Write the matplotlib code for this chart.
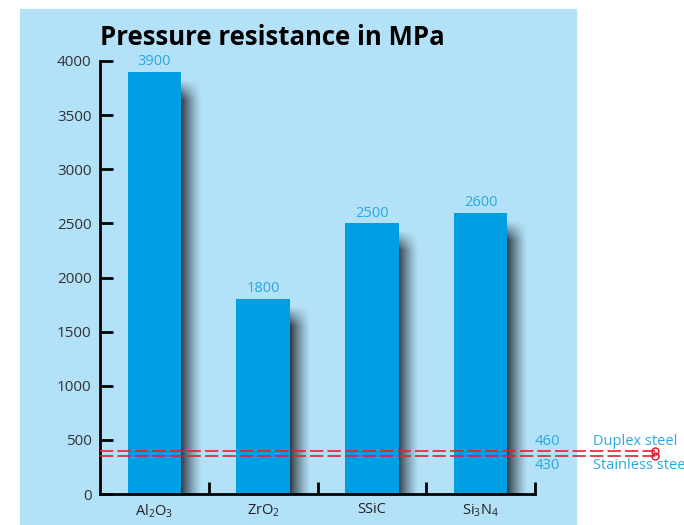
import numpy as np
import matplotlib
matplotlib.use("Agg")
from matplotlib import pyplot as plt
from matplotlib.patches import Rectangle

# data
materials = [r"Al$_2$O$_3$", r"ZrO$_2$", "SSiC", r"Si$_3$N$_4$"]
pressure = [3900, 1800, 2500, 2600]
steel_names = ["Duplex steel", "Stainless steel"]
steel_values = [460, 430]
steel_levels = [400, 355]   # where the dashed lines sit in the picture

BG = "#b3e1f7"
BAR = "#009fe3"
LABEL = "#2aa8e2"
RED = "#e3202c"

plt.rcParams["font.family"] = ["Open Sans", "DejaVu Sans"]
plt.rcParams["mathtext.default"] = "regular"

fig = plt.figure(figsize=(6.84, 5.25), dpi=100)
fig.patches.append(Rectangle((20 / 684, 0), 556 / 684, 1 - 9 / 525,
                             transform=fig.transFigure, color=BG, zorder=-10))

ax = fig.add_axes([100 / 684, 31 / 525, 435 / 684, 433 / 525])
ax.set_facecolor("none")
x = np.arange(len(materials))
w = 0.49

# soft shadow to the right of each bar
sw = 0.19
gx = np.linspace(0, 1, 60)
hx = (1 - gx) ** 1.3
for xi, v in zip(x, pressure):
    top = v - 70
    ys = np.linspace(top, 0, 160)          # image rows, top to bottom
    vy = np.clip((top - ys) / 180, 0, 1)   # fade in below the top
    img = np.zeros((160, 60, 4))
    img[..., 0] = 0.15
    img[..., 1] = 0.19
    img[..., 2] = 0.23
    img[..., 3] = np.outer(vy, hx)
    ax.imshow(img, extent=(xi + w / 2 - 0.01, xi + w / 2 + sw, 0, top),
              origin="upper", aspect="auto", zorder=1, interpolation="bilinear")

ax.bar(x, pressure, width=w, color=BAR, zorder=2)
for xi, v in zip(x, pressure):
    ax.annotate(str(v), (xi, v), xytext=(0, 2), textcoords="offset points",
                ha="center", va="bottom", color=LABEL, fontsize=10.5)

# steel reference lines
xend = 4.6
for lvl in steel_levels:
    ax.plot([-0.5, xend], [lvl, lvl], color=RED, lw=1.2, dashes=(8, 2.5),
            clip_on=False, zorder=3)
    ax.plot([xend], [lvl], marker="o", ms=5, mfc="none", mec=RED, mew=1.1,
            clip_on=False, zorder=3)
ax.text(3.5, 485, str(steel_values[0]), color=LABEL, fontsize=10.7, ha="left", va="center")
ax.text(3.5, 262, str(steel_values[1]), color=LABEL, fontsize=10.7, ha="left", va="center")
ax.text(4.03, 485, steel_names[0], color=LABEL, fontsize=10.5, ha="left", va="center")
ax.text(4.03, 262, steel_names[1], color=LABEL, fontsize=10.5, ha="left", va="center")

ax.set_xlim(-0.5, 3.5)
ax.set_ylim(0, 4000)
ax.set_yticks(range(0, 4001, 500))
ax.set_xticks(x)
ax.set_xticklabels(materials, fontsize=10.5, color="#222222")
ax.tick_params(axis="x", length=0, pad=6)
ax.tick_params(axis="y", direction="in", length=9, width=2, labelsize=11,
               labelcolor="#333333", pad=6)
ax.set_xticks([0.5, 1.5, 2.5, 3.5], minor=True)
ax.tick_params(axis="x", which="minor", direction="in", length=9, width=2)
for s in ["top", "right"]:
    ax.spines[s].set_visible(False)
for s in ["left", "bottom"]:
    ax.spines[s].set_linewidth(2)

fig.text(100 / 684, 1 - 45 / 525, "Pressure resistance in MPa", fontsize=18.5,
         fontweight="bold", color="black", ha="left", va="baseline")

fig.savefig("out.png", dpi=100)
